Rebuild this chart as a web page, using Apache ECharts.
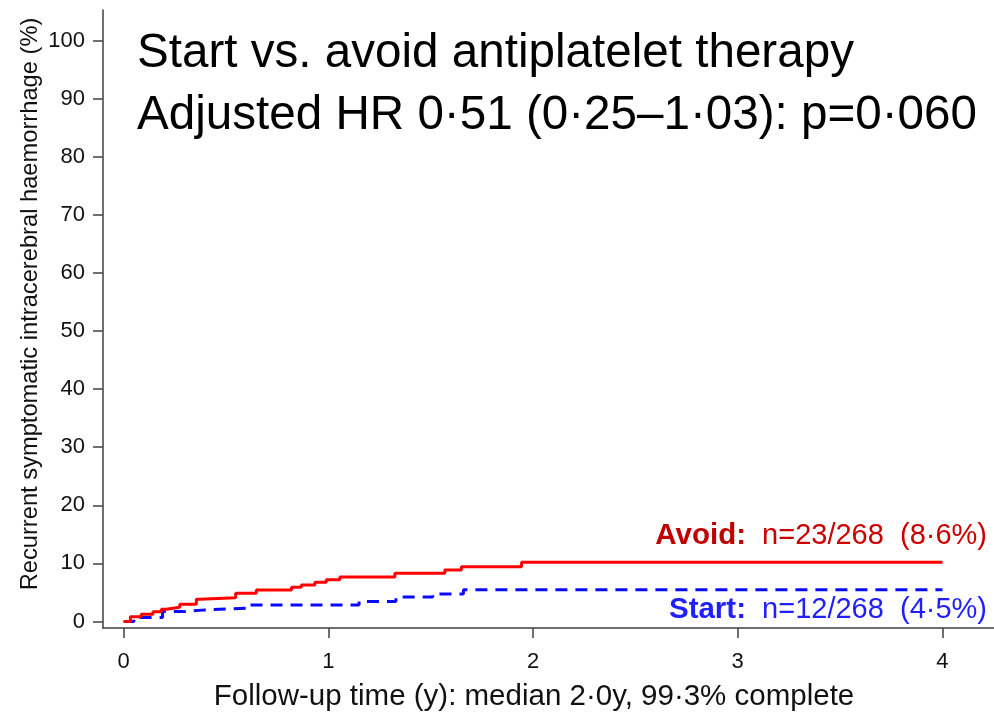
<!DOCTYPE html>
<html>
<head>
<meta charset="utf-8">
<script src="https://cdn.jsdelivr.net/npm/echarts@6/dist/echarts.min.js"></script>
<style>
  html, body { margin: 0; padding: 0; background: #ffffff; }
  #chart { width: 994px; height: 721px; }
</style>
</head>
<body>
<div id="chart"></div>
<script>
// Cumulative incidence (%) of recurrent symptomatic ICH by follow-up year
const avoidTime = [0, 0.033, 0.086, 0.143, 0.184, 0.208, 0.274, 0.355, 0.371, 0.547, 0.648, 0.82, 0.868, 0.934, 0.99, 1.056, 1.325, 1.569, 1.65, 1.944, 4.0];
const avoidPct  = [0, 0.83, 1.23, 1.69, 2.10, 2.44, 2.96, 3.82, 4.10, 4.85, 5.42, 5.89, 6.28, 6.75, 7.20, 7.66, 8.30, 8.87, 9.44, 10.2, 10.2];

const startTime = [0, 0.05, 0.19, 0.29, 0.40, 0.60, 1.15, 1.33, 1.51, 1.66, 4.0];
const startPct  = [0, 0.7, 1.7, 2.0, 2.3, 2.85, 3.45, 4.2, 4.75, 5.45, 5.45];

const xTicks = [0, 1, 2, 3, 4];
const yTicks = [0, 10, 20, 30, 40, 50, 60, 70, 80, 90, 100];

const titleLines = [
  'Start vs. avoid antiplatelet therapy',
  'Adjusted HR 0\u00b751 (0\u00b725\u20131\u00b703): p=0\u00b7060'
];
const avoidLabel = { name: 'Avoid:', text: 'n=23/268  (8\u00b76%)' };
const startLabel = { name: 'Start:', text: 'n=12/268  (4\u00b75%)' };
const xTitle = 'Follow-up time (y): median 2\u00b70y, 99\u00b73% complete';
const yTitle = 'Recurrent symptomatic intracerebral haemorrhage (%)';

const pairs = (xs, ys) => xs.map((x, i) => [x, ys[i]]);

const sans = 'Liberation Sans, Arial, sans-serif';
const narrow = 'Liberation Sans Narrow, Liberation Sans, Arial, sans-serif';
const axisColor = '#404040';

const chart = echarts.init(document.getElementById('chart'), null, { renderer: 'canvas' });

chart.setOption({
  animation: false,
  backgroundColor: '#ffffff',
  grid: { left: 103, right: 0, top: 10, bottom: 93 },
  xAxis: {
    type: 'value',
    min: -0.101,
    max: 4.252,
    splitLine: { show: false },
    axisLine: { show: true, onZero: false, lineStyle: { color: axisColor, width: 1.5 } },
    axisTick: { show: true, length: 10, customValues: xTicks, lineStyle: { color: axisColor, width: 1.5 } },
    axisLabel: { customValues: xTicks, margin: 23, color: '#111', fontSize: 22, fontFamily: narrow }
  },
  yAxis: {
    type: 'value',
    min: -1.12,
    max: 105.28,
    splitLine: { show: false },
    axisLine: { show: true, onZero: false, lineStyle: { color: axisColor, width: 1.5 } },
    axisTick: { show: true, length: 10, customValues: yTicks, lineStyle: { color: axisColor, width: 1.5 } },
    axisLabel: { customValues: yTicks, margin: 18, color: '#111', fontSize: 22, fontFamily: narrow }
  },
  series: [
    {
      name: 'Avoid',
      type: 'line',
      step: 'end',
      symbol: 'none',
      data: pairs(avoidTime, avoidPct),
      lineStyle: { color: '#ff0000', width: 3 },
      z: 3
    },
    {
      name: 'Start',
      type: 'line',
      step: 'end',
      symbol: 'none',
      data: pairs(startTime, startPct),
      lineStyle: { color: '#0a0aff', width: 3, type: [12, 8] },
      z: 2
    }
  ],
  graphic: [
    {
      type: 'text', left: 137, top: 30,
      style: { text: titleLines[0], font: '47.6px ' + sans, fill: '#000' }
    },
    {
      type: 'text', left: 137, top: 92,
      style: { text: titleLines[1], font: '47.6px ' + sans, fill: '#000' }
    },
    {
      type: 'text', x: 987, y: 536,
      style: {
        text: '{b|' + avoidLabel.name + '}  ' + avoidLabel.text,
        align: 'right', verticalAlign: 'middle',
        font: '29px ' + sans, fill: '#cc0000',
        rich: { b: { fontWeight: 'bold', fontSize: 29.5, fontFamily: sans, fill: '#c00000' } }
      }
    },
    {
      type: 'text', x: 987, y: 610,
      style: {
        text: '{b|' + startLabel.name + '}  ' + startLabel.text,
        align: 'right', verticalAlign: 'middle',
        font: '29px ' + sans, fill: '#1f1fff',
        rich: { b: { fontWeight: 'bold', fontSize: 29.5, fontFamily: sans, fill: '#1f1fff' } }
      }
    },
    {
      type: 'text', x: 534, y: 697,
      style: { text: xTitle, align: 'center', verticalAlign: 'middle', font: '29.5px ' + sans, fill: '#111' }
    },
    {
      type: 'text', x: 30, y: 304, rotation: Math.PI / 2,
      style: { text: yTitle, align: 'center', verticalAlign: 'middle', font: '23.7px ' + sans, fill: '#111' }
    }
  ]
});
</script>
</body>
</html>
